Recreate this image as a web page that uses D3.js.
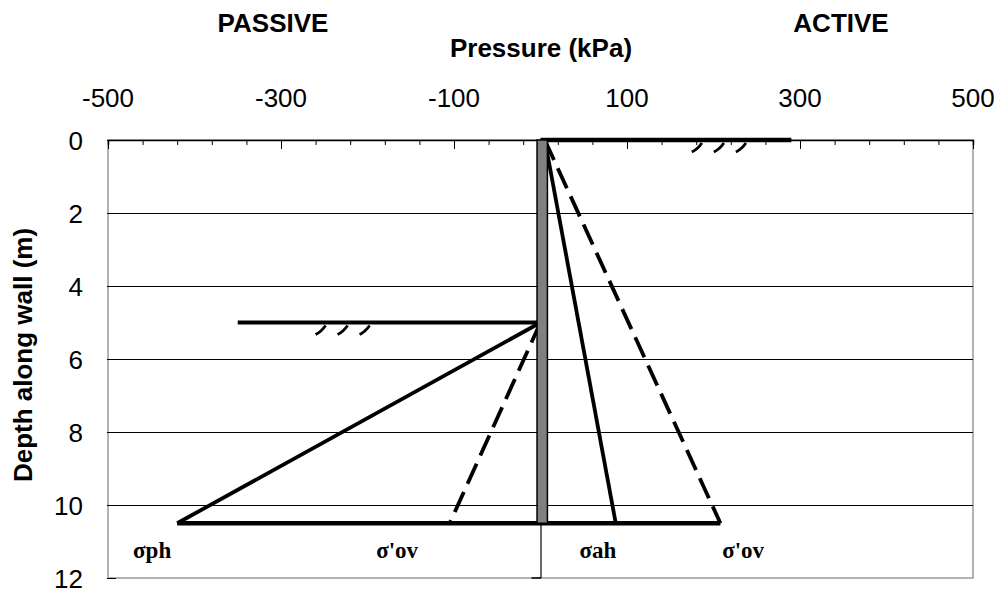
<!DOCTYPE html>
<html><head><meta charset="utf-8">
<script src="https://cdn.jsdelivr.net/npm/d3@7"></script>
<style>body{margin:0;background:#fff}svg{display:block}</style>
</head><body>
<script>
// ---- data ----
const xTicks = [-500, -300, -100, 100, 300, 500];
const yTicks = [0, 2, 4, 6, 8, 10, 12];
const wallBottom = 10.5;           // m
const passiveGround = 5;           // m
const passiveGroundExtent = -350;  // kPa
const activeGroundExtent = 290;    // kPa
// pressure lines: [pressure kPa, depth m]
const sigmaPh   = [[0, 5], [-420, 10.5]];
const sigmaOvP  = [[0, 5], [-105, 10.5]];
const sigmaAh   = [[5, 0], [87, 10.5]];
const sigmaOvA  = [[5, 0], [208, 10.5]];
const baseLine  = [[-420, 10.5], [208, 10.5]];
const labels = [
  {t: "σph", p: -471}, {t: "σ'ov", p: -190}, {t: "σah", p: 45}, {t: "σ'ov", p: 210}
];

const W = 998, H = 594;
const svg = d3.select("body").append("svg").attr("width", W).attr("height", H);
const x = d3.scaleLinear().domain([-500, 500]).range([108, 973]);
const y = d3.scaleLinear().domain([0, 12]).range([140, 578]);
const sans = "Liberation Sans, Arial, sans-serif";

// borders
svg.append("rect").attr("x", x(-500)).attr("y", y(0)).attr("width", x(500) - x(-500)).attr("height", y(12) - y(0))
  .attr("fill", "none").attr("stroke", "#999").attr("stroke-width", 1.5);

// gridlines
svg.append("g").selectAll("line").data([2, 4, 6, 8, 10]).join("line")
  .attr("x1", x(-500)).attr("x2", x(500)).attr("y1", d => y(d) + 0.5).attr("y2", d => y(d) + 0.5)
  .attr("stroke", "#000").attr("stroke-width", 1);

// top axis
const topAxis = d3.axisTop(x).tickValues(d3.range(-500, 501, 40)).tickSize(-5).tickFormat("");
const gTop = svg.append("g").attr("transform", `translate(0,${y(0)})`).call(topAxis);
gTop.select(".domain").attr("stroke", "#000").attr("stroke-width", 1.5);
gTop.selectAll(".tick line").attr("stroke", "#000");
svg.append("g").selectAll("line").data(xTicks).join("line")
  .attr("x1", d => x(d) + 0.5).attr("x2", d => x(d) + 0.5).attr("y1", y(0)).attr("y2", y(0) + 9)
  .attr("stroke", "#000");
svg.append("g").selectAll("text").data(xTicks).join("text")
  .attr("x", d => x(d)).attr("y", 107).attr("text-anchor", "middle")
  .attr("font-family", sans).attr("font-size", 26).text(d => d);

// left axis labels
svg.append("g").selectAll("text").data(yTicks).join("text")
  .attr("x", 83).attr("y", d => y(d) + 10).attr("text-anchor", "end")
  .attr("font-family", sans).attr("font-size", 26).text(d => d);
svg.append("g").selectAll("line").data(yTicks).join("line")
  .attr("x1", x(-500) - 1).attr("x2", x(-500) + 8).attr("y1", d => y(d) + 0.5).attr("y2", d => y(d) + 0.5)
  .attr("stroke", "#000");

// titles
svg.append("text").attr("x", 273).attr("y", 32).attr("text-anchor", "middle").attr("font-family", sans)
  .attr("font-weight", "bold").attr("font-size", 26).text("PASSIVE");
svg.append("text").attr("x", 841).attr("y", 32).attr("text-anchor", "middle").attr("font-family", sans)
  .attr("font-weight", "bold").attr("font-size", 26).text("ACTIVE");
svg.append("text").attr("x", 541).attr("y", 57).attr("text-anchor", "middle").attr("font-family", sans)
  .attr("font-weight", "bold").attr("font-size", 26).text("Pressure (kPa)");
svg.append("text").attr("transform", `translate(32,355) rotate(-90)`)
  .attr("text-anchor", "middle").attr("font-family", sans).attr("font-weight", "bold").attr("font-size", 26)
  .text("Depth along wall (m)");

// vertical axis line below wall
svg.append("line").attr("x1", x(0) + 0.5).attr("x2", x(0) + 0.5).attr("y1", y(wallBottom)).attr("y2", y(12))
  .attr("stroke", "#000").attr("stroke-width", 1.2);
svg.append("line").attr("x1", x(0) - 9).attr("x2", x(0) + 0.5).attr("y1", y(12)).attr("y2", y(12))
  .attr("stroke", "#000").attr("stroke-width", 1.5);

const line = d3.line().x(d => x(d[0])).y(d => y(d[1]));
function draw(data, dash, w) {
  svg.append("path").datum(data).attr("d", line).attr("fill", "none").attr("stroke", "#000")
    .attr("stroke-width", w || 3.8).attr("stroke-dasharray", dash || null);
}
draw(baseLine, null, 4.5);
draw(sigmaPh);
draw(sigmaOvP, "22,9");
draw(sigmaAh);
draw(sigmaOvA, "22,9");

// ground lines
draw([[0, passiveGround], [passiveGroundExtent, passiveGround]], null, 4);
draw([[0, 0], [activeGroundExtent, 0]], null, 4.5);

// hatches
function hatches(p0, depth, n) {
  for (let i = 0; i < n; i++) {
    const cx = x(p0) + i * 22;
    svg.append("path")
      .attr("d", `M${cx},${y(depth) + 12} Q${cx + 6},${y(depth) + 9} ${cx + 10},${y(depth) + 3}`)
      .attr("fill", "none").attr("stroke", "#000").attr("stroke-width", 2.8);
  }
}
hatches(-260, passiveGround, 3);
hatches(175, 0, 3);

// wall
svg.append("rect").attr("x", x(-4)).attr("y", y(0)).attr("width", x(8) - x(-4)).attr("height", y(wallBottom) - y(0))
  .attr("fill", "#808080").attr("stroke", "#000").attr("stroke-width", 1.5);

// labels
svg.append("g").selectAll("text").data(labels).join("text")
  .attr("x", d => x(d.p)).attr("y", 558)
  .attr("font-family", "Liberation Serif, Times New Roman, serif").attr("font-weight", "bold").attr("font-size", 23)
  .text(d => d.t);
</script>
</body></html>
